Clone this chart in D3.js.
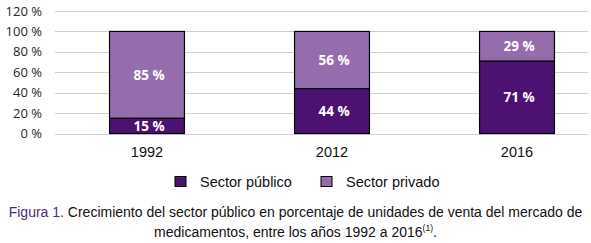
<!DOCTYPE html>
<html>
<head>
<meta charset="utf-8">
<script src="https://cdnjs.cloudflare.com/ajax/libs/d3/7.8.5/d3.min.js"></script>
<style>
  body { margin: 0; background: #fff; }
  svg { display: block; }
</style>
</head>
<body>
<div id="chart"></div>
<script>
// Data
const years = ["1992", "2012", "2016"];
const publico = [15, 44, 71];
const privado = [85, 56, 29];
const seriesNames = ["Sector público", "Sector privado"];
const yTicks = [0, 20, 40, 60, 80, 100, 120];

(function(){
  const width = 591, height = 243;
  const colors = ["#4d1174", "#966dac"];

  const svg = d3.select("#chart").append("svg")
      .attr("width", width)
      .attr("height", height);

  const x = d3.scaleBand()
      .domain(years)
      .range([54.5, 609.5])
      .paddingInner(0.595)
      .paddingOuter(0.2975);

  const y = d3.scaleLinear()
      .domain([0, 120])
      .range([133.5, 11]);

  // gridlines
  svg.append("g")
    .selectAll("line")
    .data(yTicks)
    .join("line")
      .attr("x1", 55)
      .attr("x2", 588)
      .attr("y1", d => Math.round(y(d)) + 0.5)
      .attr("y2", d => Math.round(y(d)) + 0.5)
      .attr("stroke", "#d0d0d0")
      .attr("stroke-width", 1);

  // y labels
  svg.append("g")
    .selectAll("text")
    .data(yTicks)
    .join("text")
      .attr("x", 42)
      .attr("y", d => y(d))
      .attr("dy", "0.35em")
      .attr("text-anchor", "end")
      .style("font-family", "'Open Sans', sans-serif")
      .style("font-size", "13px")
      .style("fill", "#262626")
      .text(d => d + " %");

  // stacked data
  const rows = years.map((yr, i) => ({ year: yr, publico: publico[i], privado: privado[i] }));
  const stack = d3.stack().keys(["publico", "privado"]);
  const layers = stack(rows);

  const g = svg.append("g");
  layers.forEach((layer, li) => {
    g.append("g")
      .selectAll("rect")
      .data(layer)
      .join("rect")
        .attr("x", d => x(d.data.year))
        .attr("y", d => y(d[1]))
        .attr("width", x.bandwidth())
        .attr("height", d => y(d[0]) - y(d[1]))
        .attr("fill", colors[li])
        .attr("stroke", "#000")
        .attr("stroke-width", 1.2);

    g.append("g")
      .selectAll("text")
      .data(layer)
      .join("text")
        .attr("x", d => x(d.data.year) + x.bandwidth() / 2 + 2)
        .attr("y", d => (y(d[0]) + y(d[1])) / 2)
        .attr("dy", "0.36em")
        .attr("text-anchor", "middle")
        .style("font-family", "'Open Sans', sans-serif")
        .style("font-weight", "bold")
        .style("font-size", "13.5px")
        .style("fill", "#fff")
        .text(d => (d[1] - d[0]) + " %");
  });

  // x labels
  svg.append("g")
    .selectAll("text")
    .data(years)
    .join("text")
      .attr("x", d => x(d) + x.bandwidth() / 2)
      .attr("y", 151.5)
      .attr("dy", "0.35em")
      .attr("text-anchor", "middle")
      .style("font-family", "'Liberation Sans', Arial, sans-serif")
      .style("font-size", "14.5px")
      .style("fill", "#111")
      .text(d => d);

  // legend
  const legendX = [175, 321];
  const legend = svg.append("g")
    .selectAll("g")
    .data(seriesNames)
    .join("g")
      .attr("transform", (d, i) => `translate(${legendX[i]}, 176.5)`);

  legend.append("rect")
    .attr("width", 11)
    .attr("height", 10)
    .attr("fill", (d, i) => colors[i])
    .attr("stroke", "#000")
    .attr("stroke-width", 1);

  legend.append("text")
    .attr("x", 25)
    .attr("y", 5)
    .attr("dy", "0.35em")
    .style("font-family", "'Liberation Sans', Arial, sans-serif")
    .style("font-size", "14.5px")
    .style("fill", "#111")
    .text(d => d);

  // caption
  const cap = svg.append("g")
    .style("font-family", "'Liberation Sans', Arial, sans-serif")
    .style("font-size", "14px")
    .style("fill", "#111");

  const l1 = cap.append("text")
    .attr("x", width / 2)
    .attr("y", 217)
    .attr("text-anchor", "middle");
  l1.append("tspan")
    .style("fill", "#4f2a80")
    .text("Figura 1.");
  l1.append("tspan")
    .text(" Crecimiento del sector público en porcentaje de unidades de venta del mercado de");

  const l2 = cap.append("text")
    .attr("x", width / 2)
    .attr("y", 237)
    .attr("text-anchor", "middle");
  l2.append("tspan").text("medicamentos, entre los años 1992 a 2016");
  l2.append("tspan")
    .attr("dy", -6)
    .style("font-size", "8.5px")
    .text("(1)");
  l2.append("tspan")
    .attr("dy", 6)
    .text(".");
})();
</script>
</body>
</html>
